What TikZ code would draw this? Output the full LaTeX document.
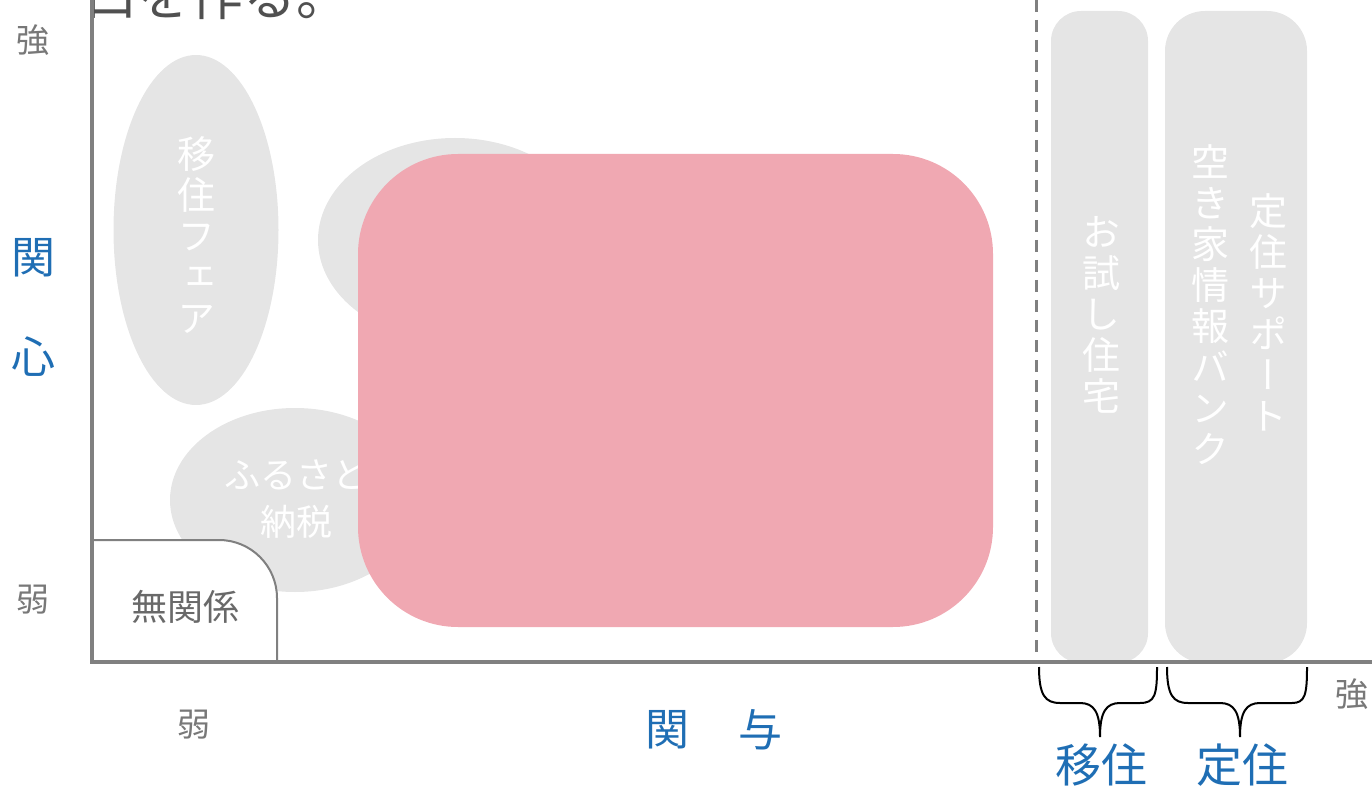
\documentclass[tikz,border=0pt]{standalone}
\usepackage{fontspec}
\setmainfont{Noto Sans CJK JP}
\newfontfamily\vfont[RawFeature=+vert]{Noto Sans CJK JP}
\usetikzlibrary{shapes.geometric}
\definecolor{shapegray}{RGB}{229,229,229}
\definecolor{pinkfill}{RGB}{240,168,178}
\definecolor{axisgray}{RGB}{128,128,128}
\definecolor{lblgray}{RGB}{120,120,120}
\definecolor{axisblue}{RGB}{31,110,180}
\definecolor{titledark}{RGB}{80,80,80}
\definecolor{boxtext}{RGB}{105,105,105}
\tikzset{
  blob/.style={ellipse, fill=shapegray, draw=none, inner sep=0pt},
  bar/.style={rectangle, fill=shapegray, draw=none, inner sep=0pt},
  whitev/.style={text=white, inner sep=0pt, align=center, font=\vfont\fontsize{38}{41}\selectfont},
  whiteh/.style={text=white, inner sep=0pt, align=center, font=\fontsize{36}{47}\selectfont},
  axislbl/.style={text=lblgray, inner sep=0pt, font=\fontsize{33}{33}\selectfont},
  bluelbl/.style={text=axisblue, inner sep=0pt, font=\fontsize{44}{44}\selectfont},
  axisline/.style={draw=axisgray, line width=4pt},
  braceline/.style={draw=black, line width=2pt},
}
\begin{document}
\begin{tikzpicture}[x=1pt,y=-1pt]
\useasboundingbox (0,0) rectangle (1372,791);
\clip (0,0) rectangle (1372,791);

% title fragment (clipped at top, as in the reference)
\node[anchor=base west, inner sep=0pt, text=titledark, font=\fontsize{53}{60}\selectfont] (title) at (84,16) {口を作る。};

% ellipses
\node[blob, minimum width=165pt, minimum height=350pt] (fair) at (196,230) {};
\node[whitev] (fairtxt) at (196,235) {移\\住\\フ\\ェ\\ア};
\node[blob, minimum width=274pt, minimum height=204pt] (mid) at (455,240) {};
\node[blob, minimum width=250pt, minimum height=184pt] (furusato) at (295,500) {};
\node[whiteh] (furutxt) at (296,499) {ふるさと\\納税};

% no-relation box
\draw[draw=axisgray, line width=2pt, fill=white] (92,662) -- (92,540) -- (219,540) .. controls (251,540) and (277,566) .. (277,598) -- (277,662) -- cycle;
\node[inner sep=0pt, text=boxtext, font=\fontsize{36}{36}\selectfont] (none) at (185,607) {無関係};

% pink box
\node[fill=pinkfill, draw=none, rounded corners=100pt, minimum width=635pt, minimum height=473pt, inner sep=0pt] (pink) at (675.5,390.5) {};

% right bars
\node[bar, rounded corners=30pt, minimum width=97pt, minimum height=652pt] (trial) at (1099.5,337) {};
\node[whitev] (trialtxt) at (1101,315) {お\\試\\し\\住\\宅};
\node[bar, rounded corners=40pt, minimum width=142pt, minimum height=652pt] (settle) at (1236,337) {};
\node[whitev] (settletxt) at (1268,312) {定\\住\\サ\\ポ\\ー\\ト};
\node[whitev] (akiya) at (1210,305) {空\\き\\家\\情\\報\\バ\\ン\\ク};

% dashed separator
\coordinate (dtop) at (1036,0);
\coordinate (dbot) at (1036,655);
\draw[draw=axisgray, line width=3pt, dash pattern=on 12pt off 8pt] (dtop) -- (dbot);

% axes
\coordinate (origin) at (92,662);
\coordinate (ytop) at (92,0);
\coordinate (xend) at (1372,662);
\draw[axisline] (ytop) -- (92,664);
\draw[axisline] (90,662) -- (xend);

% axis labels
\node[axislbl] (ystrong) at (33,40) {強};
\node[axislbl] (yweak) at (33,600) {弱};
\node[axislbl] (xweak) at (194,725) {弱};
\node[axislbl] (xstrong) at (1352,694) {強};
\node[bluelbl] (yk1) at (33,258) {関};
\node[bluelbl] (yk2) at (33,357) {心};
\node[bluelbl] (xk1) at (667,730) {関};
\node[bluelbl] (xk2) at (760,730) {与};
\node[bluelbl, font=\fontsize{46}{46}\selectfont] (iju) at (1101,765) {移住};
\node[bluelbl, font=\fontsize{46}{46}\selectfont] (teiju) at (1242,765) {定住};

% braces
\draw[braceline] (1039,667) .. controls (1039,695) and (1045,703) .. (1060,703) -- (1080,703) .. controls (1094,703) and (1100,712) .. (1100,737) .. controls (1100,712) and (1106,703) .. (1120,703) -- (1140,703) .. controls (1155,703) and (1157,695) .. (1157,667);
\draw[braceline] (1167,667) .. controls (1167,695) and (1173,703) .. (1188,703) -- (1220,703) .. controls (1234,703) and (1240,712) .. (1240,737) .. controls (1240,712) and (1246,703) .. (1260,703) -- (1292,703) .. controls (1305,703) and (1307,695) .. (1307,667);
\end{tikzpicture}
\end{document}
